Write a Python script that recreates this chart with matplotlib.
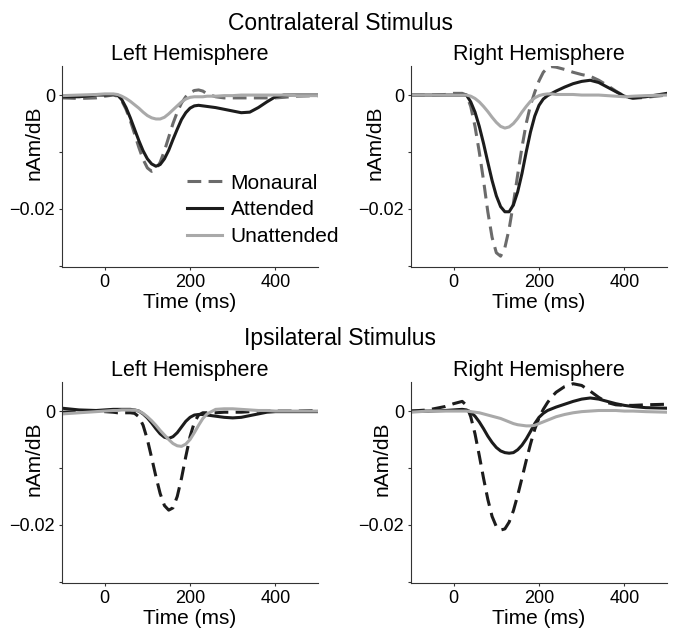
import numpy as np
import matplotlib.pyplot as plt

plt.rcParams['font.family'] = ['Liberation Sans', 'DejaVu Sans']

# time axis (ms), shared by all curves
time_ms = [-100, -60, -20, 0, 20, 30, 40, 50, 60, 70, 80, 90, 100, 110, 120, 130,
           140, 150, 160, 170, 180, 190, 200, 210, 220, 230, 240, 260, 280, 300,
           320, 340, 360, 380, 400, 420, 450, 500]

# contralateral stimulus, left hemisphere (nAm/dB)
contra_left_monaural = [-0.0005, -0.0006, -0.0005, -0.0002, 0.0000, -0.0002, -0.0010, -0.0025,
                        -0.0045, -0.0068, -0.0092, -0.0113, -0.0128, -0.0134, -0.0131, -0.0118,
                        -0.0098, -0.0074, -0.0050, -0.0030, -0.0014, -0.0003, 0.0004, 0.0008,
                        0.0009, 0.0007, 0.0002, -0.0003, -0.0005, -0.0005, -0.0005, -0.0005,
                        -0.0005, -0.0005, -0.0005, -0.0004, -0.0002, -0.0001]
contra_left_attended = [-0.0003, -0.0003, 0.0000, 0.0000, 0.0001, 0.0000, -0.0008, -0.0022,
                        -0.0040, -0.0060, -0.0080, -0.0098, -0.0112, -0.0121, -0.0125, -0.0122,
                        -0.0112, -0.0097, -0.0078, -0.0060, -0.0043, -0.0031, -0.0023, -0.0019,
                        -0.0018, -0.0019, -0.0020, -0.0022, -0.0025, -0.0028, -0.0031, -0.0030,
                        -0.0022, -0.0012, -0.0003, 0.0000, 0.0000, 0.0000]
contra_left_unattended = [-0.0001, 0.0000, 0.0001, 0.0002, 0.0002, 0.0001, -0.0002, -0.0006,
                          -0.0011, -0.0017, -0.0023, -0.0030, -0.0036, -0.0040, -0.0042, -0.0042,
                          -0.0039, -0.0033, -0.0026, -0.0019, -0.0012, -0.0007, -0.0004, -0.0003,
                          -0.0003, -0.0003, -0.0002, -0.0002, -0.0001, -0.0001, 0.0000, 0.0000,
                          0.0000, 0.0000, 0.0000, 0.0000, -0.0001, -0.0001]

# contralateral stimulus, right hemisphere
contra_right_monaural = [0.0000, 0.0000, 0.0001, 0.0003, 0.0003, 0.0000, -0.0020, -0.0055,
                         -0.0100, -0.0150, -0.0205, -0.0250, -0.0277, -0.0283, -0.0268, -0.0235,
                         -0.0190, -0.0140, -0.0092, -0.0050, -0.0018, 0.0005, 0.0025, 0.0040,
                         0.0048, 0.0050, 0.0049, 0.0045, 0.0040, 0.0036, 0.0033, 0.0026,
                         0.0017, 0.0007, -0.0002, -0.0006, -0.0004, 0.0000]
contra_right_attended = [0.0000, 0.0000, 0.0000, 0.0000, 0.0000, 0.0000, -0.0012, -0.0030,
                         -0.0055, -0.0085, -0.0118, -0.0150, -0.0177, -0.0196, -0.0205, -0.0205,
                         -0.0193, -0.0170, -0.0138, -0.0100, -0.0065, -0.0037, -0.0018, -0.0007,
                         -0.0001, 0.0003, 0.0007, 0.0014, 0.0020, 0.0024, 0.0026, 0.0022,
                         0.0014, 0.0006, -0.0002, -0.0005, -0.0003, 0.0003]
contra_right_unattended = [0.0000, 0.0000, 0.0000, 0.0000, 0.0000, 0.0000, -0.0002, -0.0006,
                           -0.0012, -0.0020, -0.0029, -0.0039, -0.0048, -0.0055, -0.0058, -0.0056,
                           -0.0050, -0.0041, -0.0030, -0.0020, -0.0011, -0.0005, -0.0001, 0.0001,
                           0.0002, 0.0002, 0.0001, 0.0001, 0.0001, 0.0000, 0.0000, 0.0000,
                           -0.0001, -0.0002, -0.0003, -0.0002, -0.0001, 0.0000]

# ipsilateral stimulus, left hemisphere
ipsi_left_monaural = [-0.0002, -0.0001, 0.0000, -0.0001, -0.0002, -0.0003, -0.0003, -0.0003,
                      -0.0003, -0.0004, -0.0010, -0.0025, -0.0050, -0.0082, -0.0115, -0.0145,
                      -0.0166, -0.0174, -0.0170, -0.0150, -0.0118, -0.0080, -0.0045, -0.0020,
                      -0.0007, -0.0003, -0.0003, -0.0003, -0.0002, -0.0002, -0.0002, -0.0001,
                      0.0000, 0.0000, 0.0000, 0.0000, 0.0000, 0.0001]
ipsi_left_attended = [0.0005, 0.0002, 0.0001, 0.0002, 0.0003, 0.0003, 0.0003, 0.0003,
                      0.0003, 0.0002, 0.0000, -0.0005, -0.0012, -0.0021, -0.0031, -0.0040,
                      -0.0046, -0.0048, -0.0045, -0.0038, -0.0028, -0.0018, -0.0011, -0.0007,
                      -0.0006, -0.0006, -0.0007, -0.0009, -0.0011, -0.0012, -0.0011, -0.0008,
                      -0.0005, -0.0002, -0.0001, -0.0001, -0.0001, -0.0001]
ipsi_left_unattended = [-0.0005, -0.0003, -0.0001, 0.0000, 0.0001, 0.0001, 0.0002, 0.0002,
                        0.0002, 0.0002, 0.0000, -0.0004, -0.0010, -0.0017, -0.0025, -0.0034,
                        -0.0042, -0.0050, -0.0057, -0.0061, -0.0062, -0.0058, -0.0050, -0.0038,
                        -0.0025, -0.0013, -0.0005, 0.0003, 0.0004, 0.0004, 0.0003, 0.0002,
                        0.0001, 0.0001, 0.0000, 0.0000, 0.0000, 0.0000]

# ipsilateral stimulus, right hemisphere
ipsi_right_monaural = [0.0000, 0.0002, 0.0008, 0.0013, 0.0017, 0.0010, -0.0010, -0.0040,
                       -0.0078, -0.0118, -0.0155, -0.0185, -0.0203, -0.0209, -0.0207, -0.0195,
                       -0.0175, -0.0148, -0.0118, -0.0087, -0.0058, -0.0032, -0.0012, 0.0003,
                       0.0015, 0.0025, 0.0033, 0.0043, 0.0048, 0.0045, 0.0035, 0.0024,
                       0.0015, 0.0011, 0.0010, 0.0010, 0.0011, 0.0012]
ipsi_right_attended = [0.0000, 0.0000, 0.0001, 0.0002, 0.0003, 0.0002, -0.0002, -0.0009,
                       -0.0019, -0.0031, -0.0044, -0.0055, -0.0064, -0.0070, -0.0073, -0.0074,
                       -0.0073, -0.0068, -0.0060, -0.0049, -0.0036, -0.0022, -0.0011, -0.0004,
                       0.0001, 0.0004, 0.0007, 0.0012, 0.0017, 0.0021, 0.0023, 0.0021,
                       0.0017, 0.0013, 0.0010, 0.0008, 0.0006, 0.0005]
ipsi_right_unattended = [-0.0002, 0.0000, 0.0000, 0.0000, 0.0000, 0.0000, -0.0001, -0.0002,
                         -0.0003, -0.0005, -0.0007, -0.0009, -0.0011, -0.0013, -0.0016, -0.0019,
                         -0.0022, -0.0024, -0.0025, -0.0026, -0.0026, -0.0025, -0.0022, -0.0019,
                         -0.0016, -0.0013, -0.0010, -0.0006, -0.0003, -0.0001, 0.0000, 0.0001,
                         0.0001, 0.0001, 0.0000, 0.0000, -0.0001, -0.0002]

legend_labels = ['Monaural', 'Attended', 'Unattended']
hemispheres = ['Left Hemisphere', 'Right Hemisphere']


def draw_panel(ax, monaural, attended, unattended, mono_color, title, ylab_x):
    line_w = 2.2
    ax.plot(time_ms, monaural, color=mono_color, lw=line_w, dashes=(4.5, 2.4),
            label=legend_labels[0])
    ax.plot(time_ms, attended, color='#1c1c1c', lw=line_w, label=legend_labels[1])
    ax.plot(time_ms, unattended, color='#a9a9a9', lw=line_w, label=legend_labels[2])
    ax.set_xlim(-100, 500)
    ax.set_ylim(-0.0302, 0.0051)
    ax.set_xticks([0, 200, 400])
    ax.set_yticks([-0.03, -0.02, -0.01, 0])
    ax.set_yticklabels(['', '\u22120.02', '', '0'])
    for side in ['top', 'right']:
        ax.spines[side].set_visible(False)
    for side in ['left', 'bottom']:
        ax.spines[side].set_color('#333333')
        ax.spines[side].set_linewidth(0.8)
    ax.tick_params(direction='out', length=2, width=0.8, color='#333333',
                   labelsize=13, pad=3)
    ax.set_xlabel('Time (ms)', fontsize=15)
    ax.xaxis.set_label_coords(0.5, -0.179)
    ax.xaxis.label.set_va('center')
    ax.set_ylabel('nAm/dB', fontsize=15)
    ax.yaxis.set_label_coords(ylab_x, 0.62)
    ax.yaxis.label.set_va('center')
    ax.text(0.5, 1.055, title, transform=ax.transAxes, ha='center', va='center',
            fontsize=15.5)


fig = plt.figure(figsize=(6.78, 6.30), dpi=100)
w, h = 0.3776, 0.319
ax_tl = fig.add_axes([0.0915, 0.5762, w, h])
ax_tr = fig.add_axes([0.6062, 0.5762, w, h])
ax_bl = fig.add_axes([0.0915, 0.0746, w, h])
ax_br = fig.add_axes([0.6062, 0.0746, w, h])

draw_panel(ax_tl, contra_left_monaural, contra_left_attended, contra_left_unattended,
           '#6b6b6b', hemispheres[0], -0.109)
draw_panel(ax_tr, contra_right_monaural, contra_right_attended, contra_right_unattended,
           '#6b6b6b', hemispheres[1], -0.14)
draw_panel(ax_bl, ipsi_left_monaural, ipsi_left_attended, ipsi_left_unattended,
           '#1c1c1c', hemispheres[0], -0.109)
draw_panel(ax_br, ipsi_right_monaural, ipsi_right_attended, ipsi_right_unattended,
           '#1c1c1c', hemispheres[1], -0.113)

ax_tl.legend(loc='upper left', bbox_to_anchor=(0.488, 0.465), frameon=False,
             fontsize=15, handlelength=1.7, handletextpad=0.4, labelspacing=0.37,
             borderpad=0, borderaxespad=0)

fig.text(0.5015, 0.962, 'Contralateral Stimulus', ha='center', va='center', fontsize=16.5)
fig.text(0.5015, 0.462, 'Ipsilateral Stimulus', ha='center', va='center', fontsize=16.5)

fig.savefig('out.png', dpi=100)
